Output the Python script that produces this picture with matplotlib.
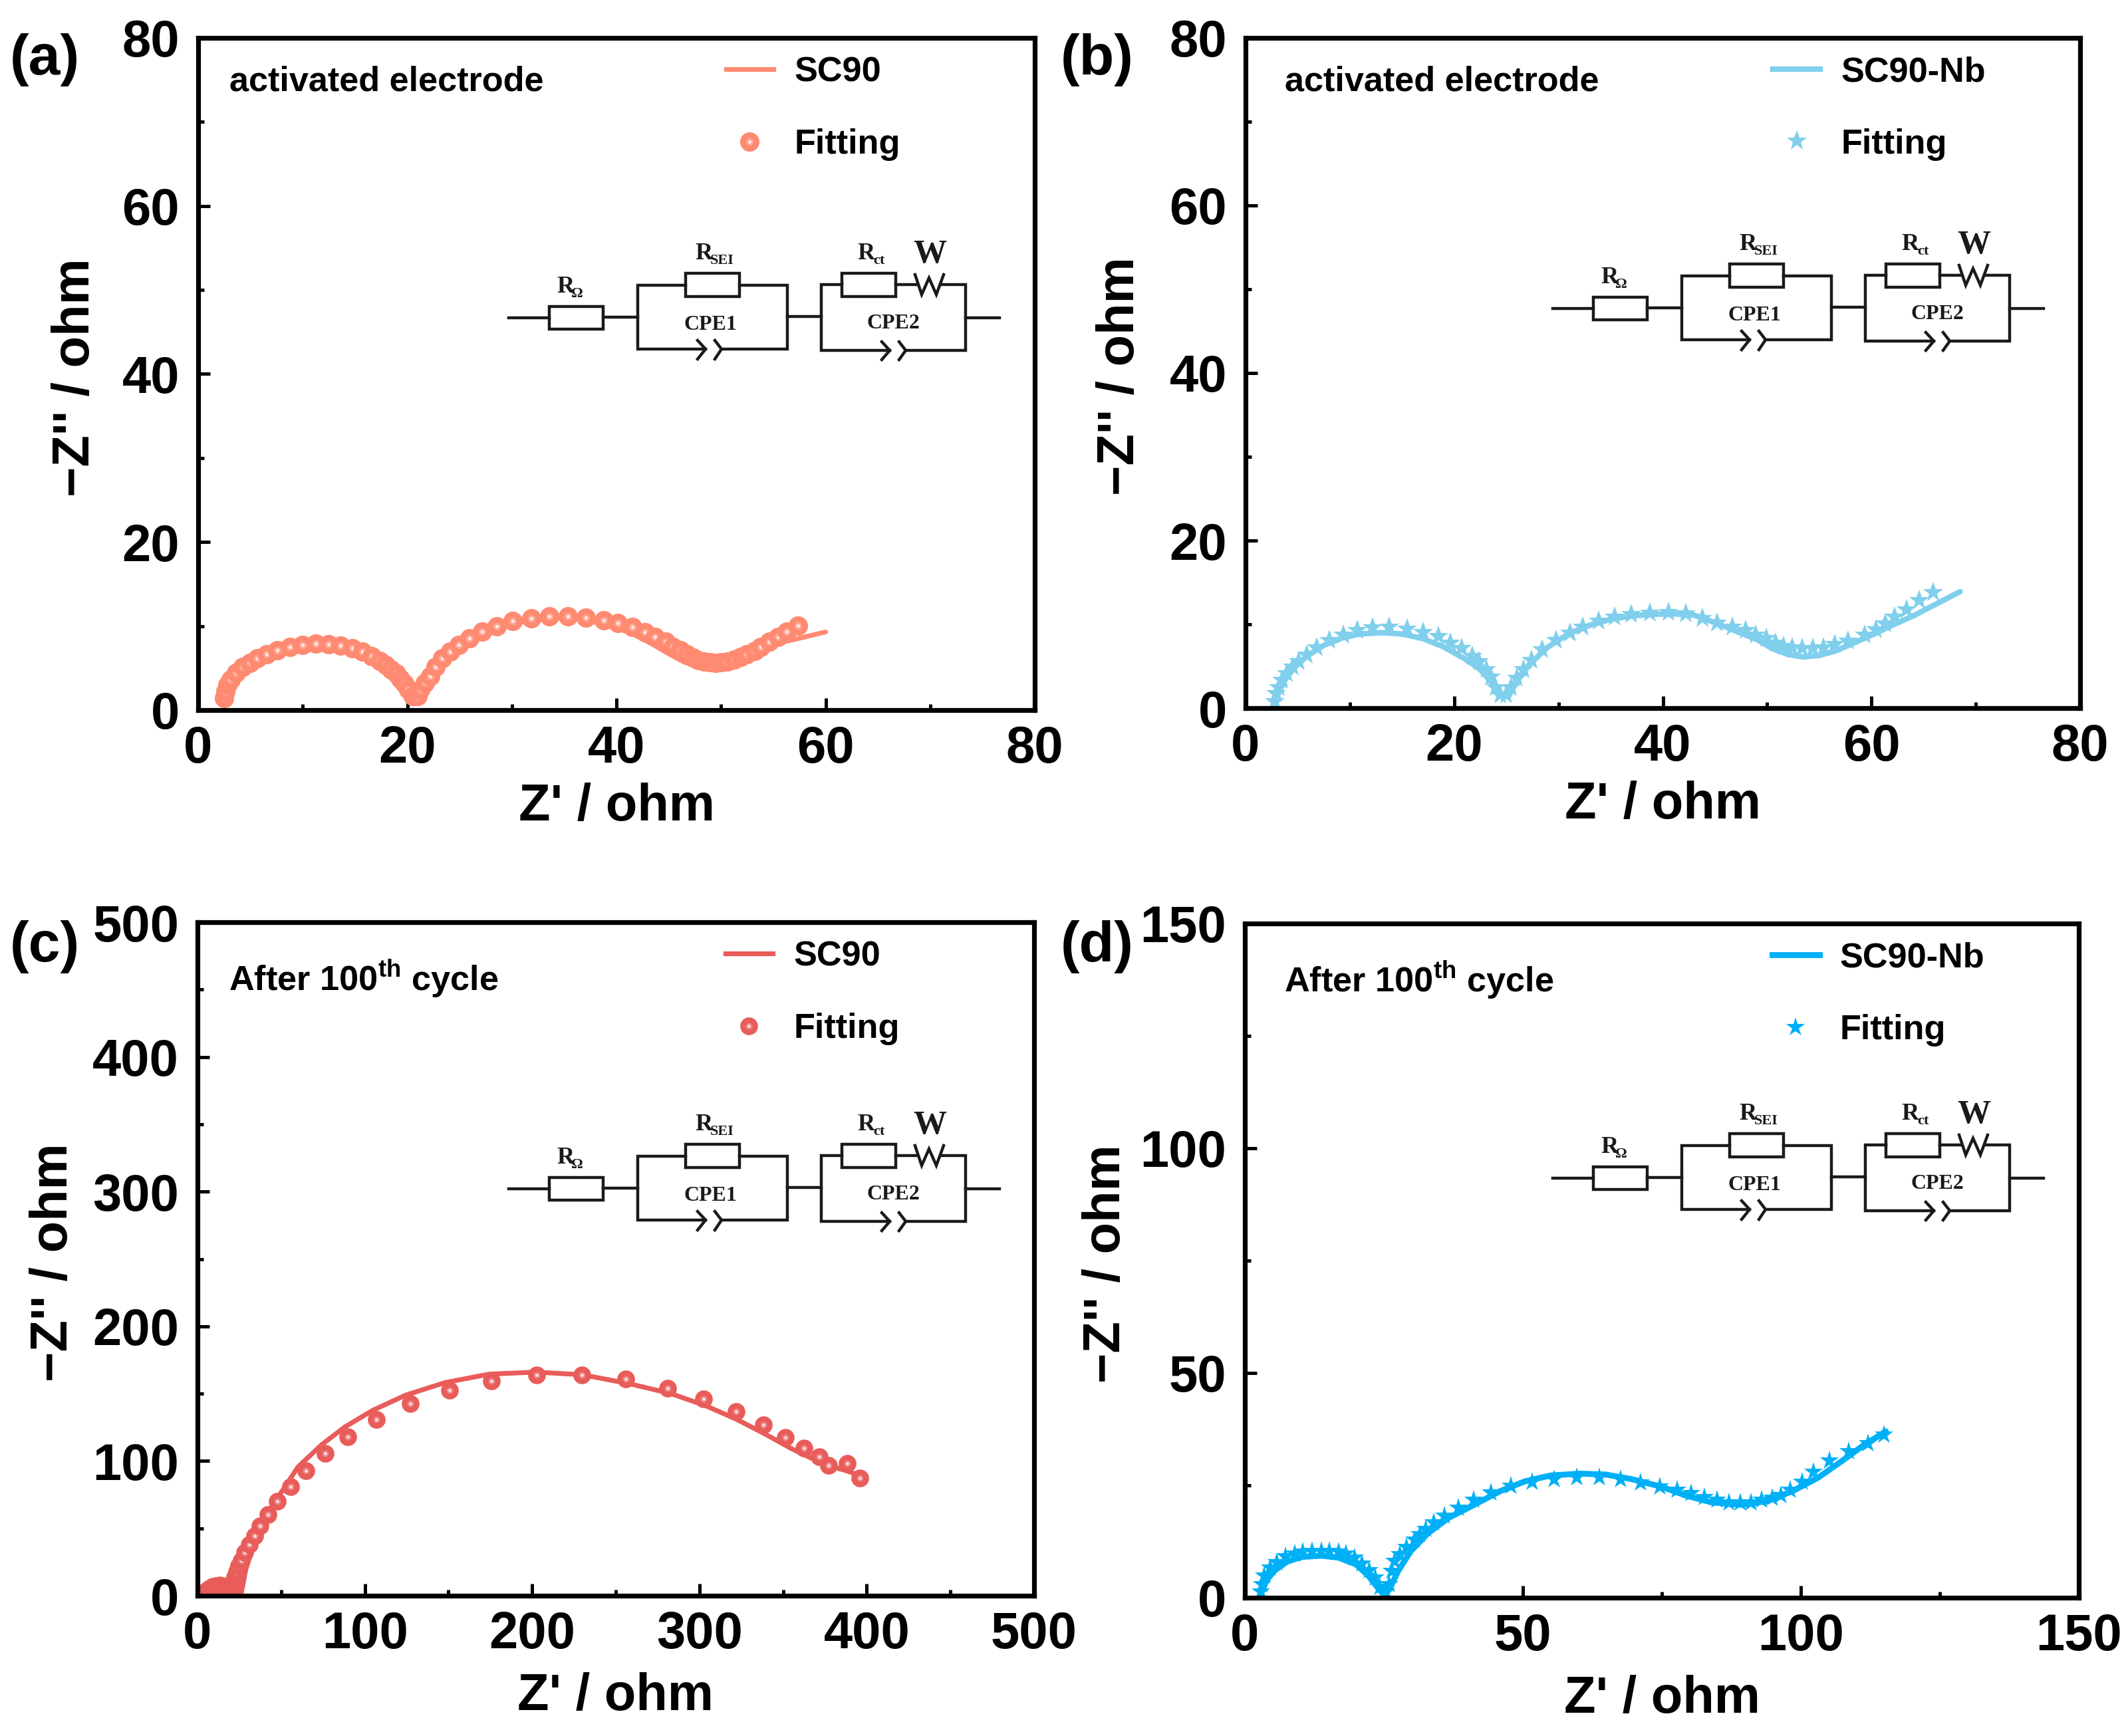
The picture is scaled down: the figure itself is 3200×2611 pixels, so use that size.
import matplotlib
import matplotlib.pyplot as plt
from matplotlib import patches
from matplotlib.legend_handler import HandlerTuple
from matplotlib.lines import Line2D
from matplotlib.ticker import MultipleLocator

matplotlib.use('Agg')

plt.rcParams['font.family'] = ['Liberation Sans', 'DejaVu Sans']
plt.rcParams['font.weight'] = 'bold'
plt.rcParams['mathtext.fontset'] = 'custom'
plt.rcParams['mathtext.bf'] = 'Liberation Sans:bold'
plt.rcParams['mathtext.rm'] = 'Liberation Sans:bold'

# (a) SC90, activated
a_line_x = [2.5, 2.9, 3.5, 4.5, 5.7, 7, 8.5, 10, 11.5, 13, 14.5, 16, 17.5, 18.8, 19.8, 20.6, 21, 21.7, 22.7, 24,
            25.5, 27.5, 29.5, 31.5, 33.5, 35.5, 37.5, 39.5, 41.5, 43.5, 45, 46.5, 47.5, 49, 50.5, 52, 53.5, 55,
            57, 60]
a_line_y = [0.8, 2, 3.2, 4.6, 5.7, 6.5, 7.05, 7.35, 7.45, 7.35, 7, 6.4, 5.5, 4.3, 3, 1.3, 1.1, 2.6, 4.6, 6.5,
            7.9, 9.2, 10.1, 10.6, 10.95, 10.95, 10.6, 10, 9.1, 7.8, 6.7, 5.7, 5.35, 5.2, 5.3, 5.85, 6.9, 7.85,
            8.4, 9.3]
a_fit_x = [2.5, 2.59, 2.79, 3.11, 3.64, 4.25, 4.94, 5.67, 6.56, 7.58, 8.79, 10.01, 11.23, 12.44, 13.58, 14.75,
           15.73, 16.58, 17.35, 17.92, 18.45, 18.93, 19.34, 19.74, 20.07, 20.55, 20.96, 21.24, 21.69, 22.18,
           22.7, 23.31, 24.08, 24.9, 25.95, 27.13, 28.58, 30.09, 31.83, 33.57, 35.36, 37.06, 38.81, 40.15,
           41.52, 42.74, 43.71, 44.69, 45.42, 46.11, 46.71, 47.32, 47.85, 48.42, 48.95, 49.47, 50.04, 50.61,
           51.26, 51.91, 52.47, 53.2, 53.81, 54.62, 55.44, 56.29, 57.34]
a_fit_y = [1.42, 2.21, 3, 3.66, 4.45, 5.11, 5.64, 6.17, 6.64, 7.09, 7.49, 7.75, 7.88, 7.83, 7.67, 7.35,
           6.96, 6.38, 5.85, 5.38, 4.8, 4.32, 3.74, 3.13, 2.47, 1.68, 1.68, 2.47, 3.27, 4.06,
           5.11, 6.17, 6.96, 7.75, 8.54, 9.33, 9.99, 10.6, 10.91, 11.18, 11.18, 10.99, 10.7, 10.33,
           9.86, 9.28, 8.67, 8.14, 7.54, 7.09, 6.64, 6.22, 5.96, 5.77, 5.69, 5.64, 5.69, 5.77,
           6.03, 6.3, 6.64, 7.01, 7.54, 8.14, 8.67, 9.33, 10.07]

# (b) SC90-Nb, activated
b_line_x = [2.8, 3.2, 3.8, 4.7, 6, 7.5, 9.3, 11, 13, 15, 17, 19, 21, 22.5, 23.7, 24.5, 25.2, 26, 27.2, 29, 31,
            33, 35, 37, 39, 41, 43, 45, 47, 49, 50.5, 52, 53.5, 55, 56.5, 58, 60, 62, 64, 66, 68.5]
b_line_y = [0.5, 2, 3.4, 4.9, 6.3, 7.5, 8.4, 8.85, 9, 8.85, 8.3, 7.3, 5.9, 4.6, 2.9, 1.4, 1.4, 3.2, 5.2, 7.3, 8.9,
            9.9, 10.6, 11, 11.2, 11.25, 11.1, 10.2, 9.2, 8.2, 7.1, 6.4, 6.1, 6.3, 6.8, 7.6, 8.7, 9.9, 11, 12.3,
            13.9]
b_fit_x = [2.81, 2.94, 3.17, 3.52, 3.97, 4.51, 5.09, 5.85, 6.84, 8, 9.34, 10.68, 12.2, 13.8, 15.47, 17.04,
           18.47, 19.63, 20.7, 21.73, 22.4, 23.08, 23.52, 23.97, 24.42, 25, 25.45, 25.98, 26.66, 27.42,
           28.44, 29.79, 31.13, 32.34, 33.82, 35.38, 36.95, 38.73, 40.52, 42.18, 43.79, 45.22, 46.65,
           47.91, 48.89, 49.92, 50.81, 51.58, 52.38, 53.37, 54.39, 55.42, 56.5, 57.75, 59.32, 60.43,
           61.33, 62.23, 63.34, 64.55, 65.89]
b_fit_y = [0.79, 1.71, 2.5, 3.3, 4.09, 4.89, 5.55, 6.34, 7.2, 8.06, 8.72, 9.25, 9.6, 9.65, 9.44, 9.07,
           8.54, 7.8, 7.14, 6.21, 5.55, 4.62, 3.7, 2.5, 1.58, 1.58, 2.5, 3.57, 4.62, 5.68,
           7, 8.06, 8.99, 9.7, 10.39, 10.84, 11.18, 11.37, 11.42, 11.24, 10.71, 10.18, 9.65,
           9.25, 8.72, 8.33, 7.8, 7.4, 7.22, 7.14, 7.14, 7.22, 7.59, 8.01, 8.72, 9.39,
           10.05, 10.84, 11.77, 12.83, 13.83]

# (c) SC90, after 100 cycles
c_line_x = [3, 5, 8, 12, 16, 19, 22, 24, 26.1, 28.9, 32.3, 37.8, 43.4, 50.4, 60.1, 74.1, 88, 104.7, 124.2, 147.9,
            174.4, 202.3, 230.1, 258, 283.1, 304, 322.1, 338.8, 355.6, 366.7, 377.9, 389, 396]
c_line_y = [0.5, 3.5, 6.5, 8, 7.2, 5, 1.5, 0.5, 1.6, 19.7, 32.9, 49.4, 64.2, 77.4, 95.6, 112, 125.2, 137.6, 148.8,
            158.2, 164.5, 166, 164, 157.4, 150, 140.9, 131, 120.3, 108.8, 102.2, 96.4, 92.3, 89]
c_fit_x = [3, 4, 5.5, 7, 9, 11, 13, 15, 17, 19, 20.5, 22, 21.1, 21.1, 21.7, 22.2, 23.4, 24.5, 26.1, 28.1, 30.9,
           34.2, 37.3, 42.3, 47.6, 55.7, 64.6, 76.3, 90, 107, 127.3, 150.7, 175.8, 202.8, 229.9, 256.1,
           280.9, 302.6, 322, 338.3, 351.4, 362.5, 371.7, 377.3, 388.2, 396]
c_fit_y = [1, 2.5, 4, 5.5, 6.8, 7.5, 7.8, 7.6, 6.8, 5.2, 3, 1, 3.2, 6.5, 9.8, 13.9, 18, 22.2, 26.3, 32, 37.8,
           44.4, 51.9, 60.4, 70, 81.1, 92.6, 105.5, 118.2, 131, 142.6, 152.4, 159.4, 163.7, 163.7, 160.7,
           154.1, 145.9, 136.8, 126.9, 117.3, 109.6, 103, 96.9, 98, 87.3]

# (d) SC90-Nb, after 100 cycles
d_line_x = [2.76, 3.9, 5.4, 7.7, 10.4, 13.8, 16.9, 20, 22.2, 24.1, 25.1, 26, 27.55, 29.8, 32.9, 36.7, 41.3, 45.9,
            50.4, 55, 60.3, 64.9, 69.5, 74.9, 79.4, 84, 89.3, 93.9, 98.5, 103.1, 107.6, 111.5, 115.3]
d_line_y = [0.5, 3.9, 6.1, 8.1, 9.1, 9.35, 8.9, 7.4, 4.9, 1.9, 0.5, 1.9, 5.9, 10.3, 14.3, 17.8, 20.7, 23.7,
            25.9, 27.2, 27.6, 27.4, 26.4, 24.7, 22.7, 21.2, 20.7, 21.5, 23.7, 26.7, 30.6, 34.1, 37]
d_fit_x = [2.9, 3.1, 3.5, 4.5, 5.8, 7.3, 9, 10.4, 12.1, 13.7, 15.2, 16.9, 18.2, 19.7, 21.1, 22.4, 23.4, 24.3,
           25.3, 25.9, 26.4, 26.9, 27.9, 29.1, 30.5, 31.4, 32.5, 34, 35.9, 38.4, 41.1, 44.3, 47.8, 51.7,
           55.6, 59.7, 63.8, 67.6, 71.2, 74.6, 77.7, 80.3, 82.7, 84.9, 87.05, 89.1, 91, 92.9, 94.8, 96.4,
           98.1, 100.2, 102.3, 105.1, 108.6, 112.1, 115]
d_fit_y = [1.4, 2.9, 4.9, 6.6, 7.9, 9.1, 9.8, 10.2, 10.3, 10.4, 10.3, 10.2, 9.7, 8.9, 7.6, 6.1, 4.4, 2.4,
           1.4, 2.9, 5.9, 8.1, 9.6, 11.3, 12.8, 14, 15.3, 16.7, 18.2, 20, 21.7, 23.4, 24.8, 25.8,
           26.4, 26.8, 26.8, 26.3, 25.6, 24.7, 24, 23.2, 22.3, 21.7, 21.2, 21.1, 21.1, 21.7, 22.2, 22.8,
           24, 25.7, 27.9, 30.4, 32.6, 34.3, 36.3]

W, H = 3200, 2611
TICK_SIZE = 28
LEGEND_SIZE = 18.8


def pixel_axes(fig, left, right, top, bottom):
    return fig.add_axes([left / W, 1 - bottom / H, (right - left) / W, (bottom - top) / H])


def sphere_handle(color, size):
    """Ball marker: a coloured disc with a pale glint, as stacked marker layers"""
    return (Line2D([], [], ls='', marker='o', ms=size, color=color, mew=0),
            Line2D([], [], ls='', marker='o', ms=size * 0.38, color='#ffffff', alpha=0.25, mew=0),
            Line2D([], [], ls='', marker='o', ms=size * 0.18, color='#ffffff', alpha=0.75, mew=0))


def draw_spheres(ax, xs, ys, color, size):
    for i, (x, y) in enumerate(zip(xs, ys)):
        ax.plot([x], [y], 'o', ms=size, color=color, mew=0, zorder=3 + i * 0.01)
        ax.plot([x], [y], 'o', ms=size * 0.38, color='#ffffff', alpha=0.25, mew=0, zorder=3 + i * 0.01)
        ax.plot([x], [y], 'o', ms=size * 0.18, color='#ffffff', alpha=0.75, mew=0, zorder=3 + i * 0.01)


def draw_panel(ax, line_x, line_y, fit_x, fit_y, color, kind, label, xmax, ymax, xstep, ystep, note, size, lw,
               ylabel_x, xlabel_y, anchor_x, note_x, note_y):
    ax.plot(line_x, line_y, color=color, lw=lw, solid_capstyle='round', zorder=2)
    if kind == 'sphere':
        draw_spheres(ax, fit_x, fit_y, color, size)
        fit_handle = sphere_handle(color, size)
    else:
        ax.plot(fit_x, fit_y, ls='', marker='*', ms=size, color=color, mew=0, zorder=3)
        fit_handle = Line2D([], [], ls='', marker='*', ms=size, color=color, mew=0)

    ax.set_xlim(0, xmax)
    ax.set_ylim(0, ymax)
    ax.xaxis.set_major_locator(MultipleLocator(xstep))
    ax.xaxis.set_minor_locator(MultipleLocator(xstep / 2))
    ax.yaxis.set_major_locator(MultipleLocator(ystep))
    ax.yaxis.set_minor_locator(MultipleLocator(ystep / 2))
    ax.tick_params(which='major', direction='in', length=6.5, width=1.8, labelsize=TICK_SIZE)
    ax.tick_params(which='minor', direction='in', length=3.2, width=1.8)
    ax.tick_params(axis='x', which='major', pad=8)
    ax.tick_params(axis='y', which='major', pad=10)
    for spine in ax.spines.values():
        spine.set_linewidth(2.6)
        spine.set_zorder(6)

    ax.set_xlabel("Z' / ohm", fontsize=TICK_SIZE, fontweight='bold')
    ax.set_ylabel("\u2212Z'' / ohm", fontsize=TICK_SIZE, fontweight='bold')
    ax.xaxis.set_label_coords(0.5, xlabel_y, transform=ax.transAxes)
    ax.yaxis.set_label_coords(ylabel_x, 0.495, transform=ax.transAxes)
    ax.xaxis.label.set_verticalalignment('center')
    ax.yaxis.label.set_verticalalignment('center')

    ax.text(note_x, note_y, note, transform=ax.transAxes, fontsize=LEGEND_SIZE, va='center', ha='left')
    line_handle = Line2D([], [], color=color, lw=lw)
    ax.legend([line_handle, fit_handle], [label, 'Fitting'], handler_map={tuple: HandlerTuple(ndivide=1, pad=0)},
              loc='upper left', bbox_to_anchor=(anchor_x, 0.973), frameon=False, fontsize=LEGEND_SIZE,
              borderpad=0, borderaxespad=0, handlelength=1.36, handletextpad=0.6, labelspacing=1.14, numpoints=1)


def draw_circuit(ov, dx, dy):
    lw = 1.6
    wires = [
        ([765, 826], [478, 478]), ([907, 959], [477, 477]),
        ([1031, 959, 959, 1061], [429, 429, 525, 525]),
        ([1112, 1184, 1184, 1085], [429, 429, 525, 525]),
        ([1184, 1235], [476, 476]),
        ([1266, 1235, 1235, 1338], [428, 428, 527, 527]),
        ([1347, 1378], [428, 428]),
        ([1417, 1452, 1452, 1362], [428, 428, 527, 527]),
        ([1452, 1503], [478, 478]),
        ([1049, 1061, 1049], [512, 525, 540]),
        ([1075, 1085, 1075], [512, 525, 540]),
        ([1326, 1338, 1326], [514, 527, 541]),
        ([1352, 1362, 1352], [514, 527, 541]),
        ([1376, 1386, 1397, 1408, 1419], [413, 443, 418, 443, 413]),
    ]
    for xs, ys in wires:
        ov.plot([x + dx for x in xs], [y + dy for y in ys], color='#1a1a1a', lw=lw, solid_joinstyle='miter')
    for left, top, right, bottom in [(826, 461, 907, 495), (1031, 411, 1112, 446), (1266, 411, 1347, 446)]:
        ov.add_patch(patches.Rectangle((left + dx, top + dy), right - left, bottom - top, facecolor='white',
                                       edgecolor='#1a1a1a', lw=lw))
    serif = dict(family='Liberation Serif', color='#1a1a1a', ha='center', va='center', fontweight='bold')
    ov.text(850 + dx, 432 + dy, 'R', fontsize=13, **serif)
    ov.text(868 + dx, 442 + dy, '\u03a9', fontsize=8, **serif)
    ov.text(1058 + dx, 381 + dy, 'R', fontsize=13, **serif)
    ov.text(1086 + dx, 392 + dy, 'SEI', fontsize=8, **serif)
    ov.text(1302 + dx, 381 + dy, 'R', fontsize=13, **serif)
    ov.text(1322 + dx, 392 + dy, 'ct', fontsize=8, **serif)
    ov.text(1398 + dx, 383 + dy, 'W', fontsize=18, **serif)
    ov.text(1068 + dx, 489 + dy, 'CPE1', fontsize=11.5, **serif)
    ov.text(1343 + dx, 487 + dy, 'CPE2', fontsize=11.5, **serif)


fig = plt.figure(figsize=(16, 13.055), dpi=200, facecolor='white')

ax_a = pixel_axes(fig, 298, 1556, 57, 1068)
ax_b = pixel_axes(fig, 1873, 3128, 57, 1065)
ax_c = pixel_axes(fig, 297, 1555, 1387, 2400)
ax_d = pixel_axes(fig, 1872, 3126, 1389, 2403)

draw_panel(ax_a, a_line_x, a_line_y, a_fit_x, a_fit_y, '#FF8A72', 'sphere', 'SC90', 80, 80, 20, 20,
           'activated electrode', 10.5, 2.6, -0.147, -0.144, 0.631, 0.037, 0.935)
draw_panel(ax_b, b_line_x, b_line_y, b_fit_x, b_fit_y, '#80CFEC', 'star', 'SC90-Nb', 80, 80, 20, 20,
           'activated electrode', 11.5, 3.0, -0.15, -0.144, 0.632, 0.047, 0.935)
draw_panel(ax_c, c_line_x, c_line_y, c_fit_x, c_fit_y, '#E85C5A', 'sphere', 'SC90', 500, 500, 100, 100,
           r'After 100$^{\mathbf{th}}$ cycle', 9.6, 2.6, -0.172, -0.15, 0.631, 0.037, 0.916)
draw_panel(ax_d, d_line_x, d_line_y, d_fit_x, d_fit_y, '#00B0F6', 'star', 'SC90-Nb', 150, 150, 50, 50,
           r'After 100$^{\mathbf{th}}$ cycle', 10.5, 3.2, -0.166, -0.15, 0.632, 0.047, 0.916)

overlay = fig.add_axes([0, 0, 1, 1])
overlay.set_xlim(0, W)
overlay.set_ylim(H, 0)
overlay.axis('off')
overlay.patch.set_alpha(0)

draw_circuit(overlay, 0, 0)
draw_circuit(overlay, 1570, -14)
draw_circuit(overlay, 0, 1310)
draw_circuit(overlay, 1570, 1294)

for text, x, y in [('(a)', 67, 90), ('(b)', 1650, 90), ('(c)', 67, 1424), ('(d)', 1650, 1424)]:
    overlay.text(x, y, text, fontsize=31, ha='center', va='center', fontweight='bold')

fig.savefig('out.png', dpi=200)
